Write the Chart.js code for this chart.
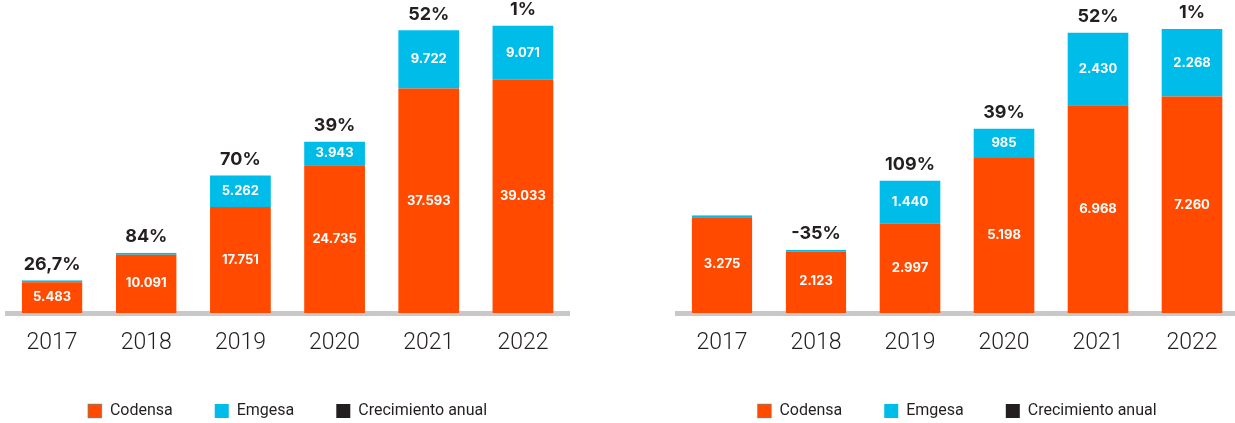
<!DOCTYPE html>
<html>
<head>
<meta charset="utf-8">
<script src="https://cdn.jsdelivr.net/npm/chart.js@4/dist/chart.umd.min.js"></script>
<style>
  html, body { margin: 0; padding: 0; background: #fff; overflow: hidden; }
  #left { position: absolute; left: 5px; top: 0; }
  #right { position: absolute; left: 675px; top: 0; }
</style>
</head>
<body>
<canvas id="left" width="565" height="429"></canvas>
<canvas id="right" width="564" height="429"></canvas>
<script>
const years = ['2017', '2018', '2019', '2020', '2021', '2022'];

// left chart
const codensaLeft = [5483, 10091, 17751, 24735, 37593, 39033];
const emgesaLeft = [0, 0, 5262, 3943, 9722, 9071];
const growthLeft = ['26,7%', '84%', '70%', '39%', '52%', '1%'];

// right chart
const codensaRight = [3275, 2123, 2997, 5198, 6968, 7260];
const emgesaRight = [0, 0, 1440, 985, 2430, 2268];
const growthRight = ['', '-35%', '109%', '39%', '52%', '1%'];

const ORANGE = '#ff4a00';
const CYAN = '#00bce8';
const DARK = '#231f20';

function fmt(v) {
  return String(v).replace(/\B(?=(\d{3})+(?!\d))/g, '.');
}

// numbers inside the bars and growth on top
const barLabels = {
  id: 'barLabels',
  afterDatasetsDraw(chart, args, opts) {
    const ctx = chart.ctx;
    ctx.save();
    ctx.textAlign = 'center';
    ctx.textBaseline = 'middle';
    ctx.fillStyle = '#fff';
    ctx.font = 'bold 13px Inter, "Liberation Sans", sans-serif';
    [0, 1].forEach(di => {
      const meta = chart.getDatasetMeta(di);
      meta.data.forEach((bar, i) => {
        const v = chart.data.datasets[di].data[i];
        if (!v) return;
        ctx.fillText(fmt(v), bar.x, (bar.y + bar.base) / 2);
      });
    });
    ctx.fillStyle = DARK;
    ctx.font = 'bold 18px Inter, "Liberation Sans", sans-serif';
    const top = chart.getDatasetMeta(1).data;
    top.forEach((bar, i) => {
      const g = opts.growth[i];
      if (g) ctx.fillText(g, bar.x, bar.y - 16);
    });
    ctx.restore();
  }
};

function makeChart(id, codensa, emgesa, growth, yMax) {
  // thin cyan edge on bars where Emgesa is empty
  const edge = c => (c.type === 'data' && !emgesa[c.dataIndex]) ? {top: 2, left: 0, right: 0, bottom: 0} : 0;
  return new Chart(document.getElementById(id), {
    type: 'bar',
    data: {
      labels: years,
      datasets: [
        { label: 'Codensa', data: codensa, backgroundColor: ORANGE, borderColor: CYAN, borderWidth: edge },
        { label: 'Emgesa', data: emgesa, backgroundColor: CYAN, borderWidth: 0 },
        { label: 'Crecimiento anual', data: years.map(() => null), backgroundColor: DARK, borderColor: DARK, borderWidth: 0 }
      ]
    },
    options: {
      responsive: false,
      animation: false,
      layout: { padding: 0 },
      datasets: { bar: { categoryPercentage: 1, barPercentage: 0.645 } },
      scales: {
        x: {
          stacked: true,
          grid: { display: false },
          border: { display: true, color: '#c8c8c8', width: 5 },
          ticks: { padding: 8, color: DARK, font: { family: 'Roboto', weight: 300, size: 23 } },
          afterFit(scale) { scale.height = 48; }
        },
        y: { stacked: true, display: false, min: 0, max: yMax }
      },
      plugins: {
        legend: {
          position: 'bottom',
          labels: {
            boxWidth: 14, boxHeight: 14, padding: 42, color: DARK,
            font: { family: 'Roboto', size: 16 }
          }
        },
        tooltip: { enabled: false },
        barLabels: { growth: growth }
      }
    },
    plugins: [barLabels]
  });
}

makeChart('left', codensaLeft, emgesaLeft, growthLeft, 52400);
makeChart('right', codensaRight, emgesaRight, growthRight, 10500);
</script>
</body>
</html>
